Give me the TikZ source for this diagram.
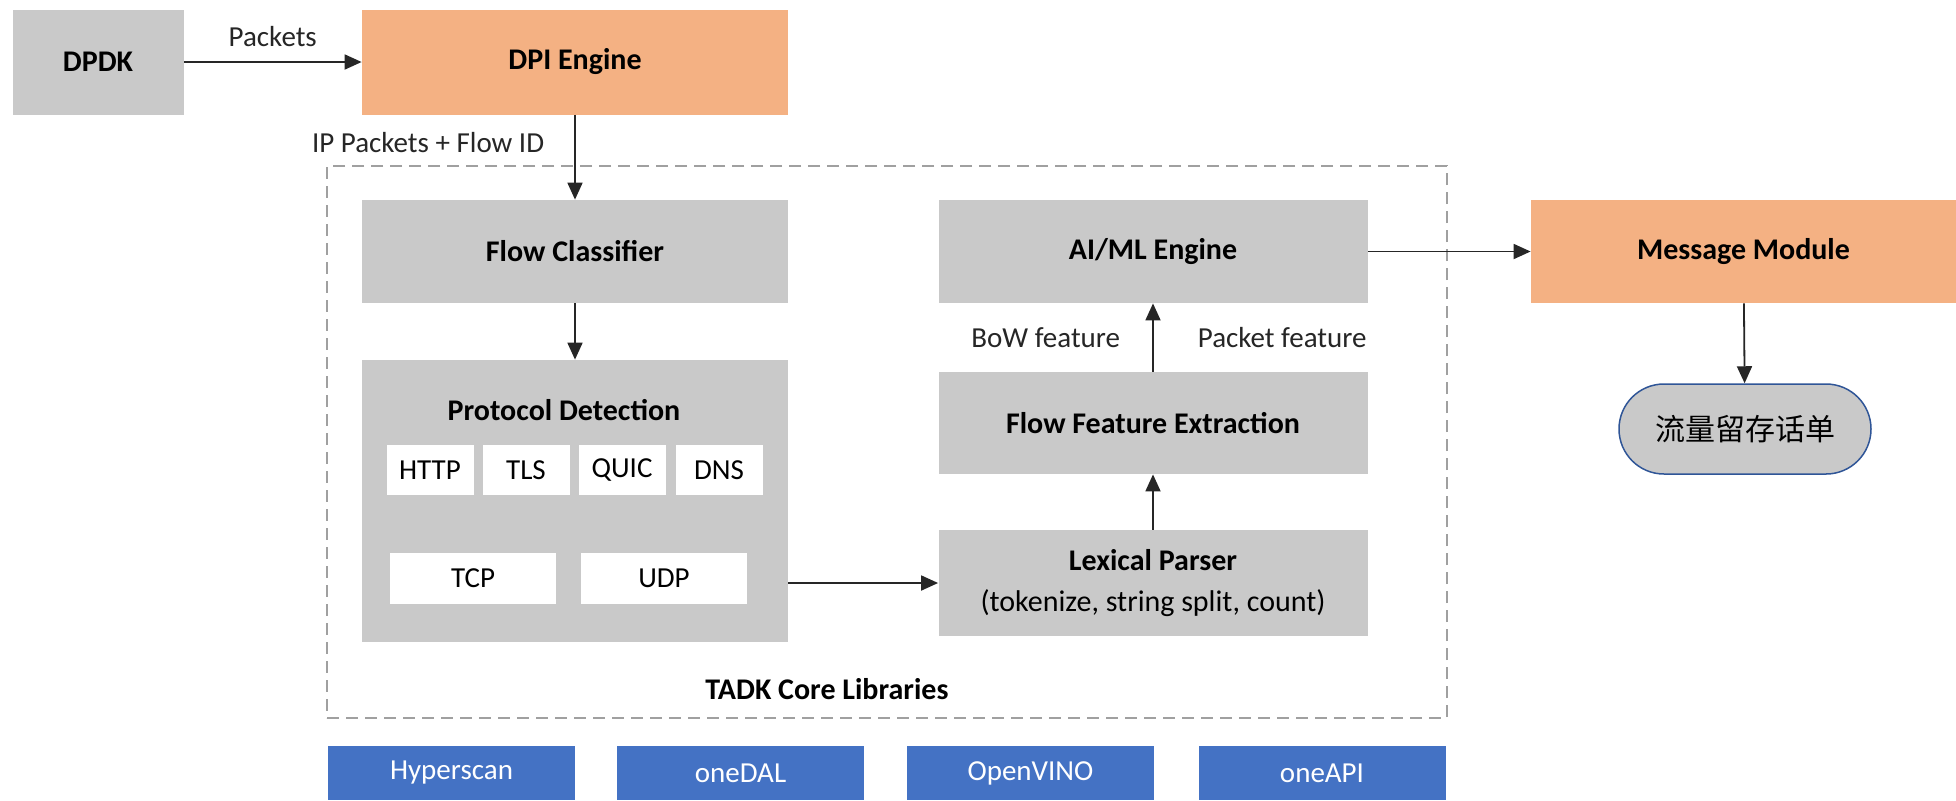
\documentclass[tikz,border=0pt]{standalone}
\usepackage{xcolor}
\usepackage{fontspec}
\setmainfont{Carlito}
\newfontfamily\cjkfont{Noto Sans CJK SC}
\usepackage{tikz}
\usetikzlibrary{calc}
\usetikzlibrary{arrows.meta}

\definecolor{boxgray}{RGB}{201,201,201}
\definecolor{engorange}{RGB}{244,177,131}
\definecolor{libblue}{RGB}{68,114,196}
\definecolor{pillblue}{RGB}{47,85,151}
\definecolor{dashgray}{RGB}{160,160,160}

\tikzset{
    block/.style={fill=boxgray, inner sep=0pt, align=center, font=\fontsize{15}{20.5}\selectfont\bfseries},
    engine/.style={block, fill=engorange},
    proto/.style={fill=white, inner sep=0pt, minimum height=25pt, font=\fontsize{14.5}{17}\selectfont},
    lib/.style={fill=libblue, text=white, inner sep=0pt, minimum width=123.5pt, minimum height=27pt, font=\fontsize{14.5}{17}\selectfont},
    lbl/.style={inner sep=0pt, font=\fontsize{14.5}{17}\selectfont},
    flow/.style={-{Triangle[length=8.5pt,width=7.5pt]}, line width=0.9pt, black!85}
}

\begin{document}
\begin{tikzpicture}[x=0.5pt, y=-0.5pt]
                \fill[white] (0,0) rectangle (1956,800);
                \useasboundingbox (0,0) rectangle (1956,800);

                \node[draw=dashgray, line width=0.75pt, dash pattern=on 6pt off 3.5pt, minimum width=560pt, minimum height=276pt] (core) at (887,442) {};
                \node[block, fill=none] (corelbl) at (827,689) {TADK Core Libraries};

                \node[block, minimum width=85.5pt, minimum height=52.5pt] (dpdk) at (98,62) {DPDK};
                \node[engine, minimum width=213pt, minimum height=52.5pt] (dpi) at (575,62) {DPI Engine};
                \node[block, minimum width=213pt, minimum height=51.5pt] (fc) at (575,251.5) {Flow Classifier};

                \node[block, minimum width=213pt, minimum height=141pt] (pd) at (575,501) {};
                \node[block, fill=none] (pdtitle) at (564,410) {Protocol Detection};
                \foreach \p/\x in {HTTP/430, TLS/526, QUIC/622, DNS/719}
                    \node[proto, minimum width=43.5pt] (\p) at (\x,470) {\p};
                \foreach \p/\x in {TCP/473, UDP/664}
                    \node[proto, minimum width=83pt, minimum height=25.5pt] (\p) at (\x,578) {\p};

                \node[block, minimum width=214.5pt, minimum height=51.5pt] (aiml) at (1153,251.5) {AI/ML Engine};
                \node[block, minimum width=214.5pt, minimum height=51pt] (ffe) at (1153,423) {Flow Feature Extraction};
                \node[block, minimum width=214.5pt, minimum height=53pt] (lex) at (1153,583) {Lexical Parser\\\mdseries (tokenize, string split, count)};

                \node[engine, minimum width=212.5pt, minimum height=51.5pt] (msg) at (1743.5,251.5) {Message Module};
                \node[draw=pillblue, line width=0.75pt, fill=boxgray, rounded corners=22.5pt, minimum width=126pt, minimum height=45pt, inner sep=0pt, font=\fontsize{15}{18}\cjkfont] (pill) at (1745,429) {流量留存话单};

                \foreach \l/\x in {Hyperscan/451.5, oneDAL/740.5, OpenVINO/1030.5, oneAPI/1322}
                    \node[lib] (\l) at (\x,773) {\l};

                \draw[flow] (dpdk) -- node[lbl, above=7pt] {Packets} (dpi);
                \draw[flow] (dpi) -- node[lbl, pos=0.33, left=15pt] {IP Packets + Flow ID} (fc);
                \draw[flow] (fc) -- (pd);
                \draw[flow] (pd.east |- lex) -- (lex);
                \draw[flow] (lex) -- (ffe);
                \draw[flow] (ffe) -- node[lbl, left=16pt] {BoW feature} node[lbl, right=22pt] {Packet feature} (aiml);
                \draw[flow] (aiml) -- (msg);
                \draw[flow] (msg) -- (pill);
\end{tikzpicture}
\end{document}
